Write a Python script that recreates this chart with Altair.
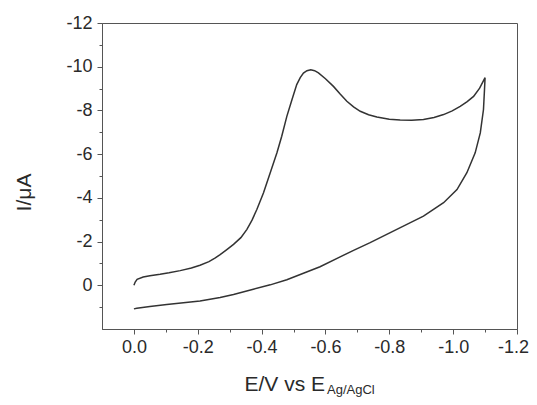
import altair as alt
import pandas as pd

# Cyclic voltammogram: potential (V vs Ag/AgCl) and current (uA), in scan order
E = [0.000, -0.004, -0.010, -0.029, -0.050, -0.082, -0.110, -0.145, -0.180, -0.207,
     -0.235, -0.255, -0.270, -0.290, -0.312, -0.335, -0.354, -0.370, -0.385, -0.406,
     -0.427, -0.448, -0.463, -0.479, -0.495, -0.510, -0.521, -0.531, -0.542, -0.554,
     -0.566, -0.578, -0.600, -0.625, -0.646, -0.667, -0.688, -0.709, -0.735, -0.761,
     -0.800, -0.834, -0.870, -0.907, -0.940, -0.970, -0.997, -1.022, -1.044, -1.064,
     -1.083, -1.100,
     -1.098, -1.095, -1.085, -1.069, -1.043, -1.012, -0.970, -0.907, -0.855, -0.803,
     -0.740, -0.688, -0.646, -0.583, -0.531, -0.479, -0.427, -0.374, -0.312, -0.270,
     -0.207, -0.155, -0.103, -0.050, -0.009, 0.000]
I = [0.00, -0.15, -0.27, -0.38, -0.44, -0.50, -0.57, -0.67, -0.79, -0.92,
     -1.08, -1.25, -1.40, -1.62, -1.87, -2.18, -2.56, -2.98, -3.47, -4.23,
     -5.15, -6.06, -6.82, -7.73, -8.49, -9.18, -9.50, -9.71, -9.82, -9.86,
     -9.82, -9.72, -9.45, -9.10, -8.75, -8.42, -8.16, -7.96, -7.80, -7.70,
     -7.60, -7.56, -7.55, -7.58, -7.68, -7.81, -7.98, -8.19, -8.40, -8.64,
     -9.02, -9.50,
     -8.90, -8.04, -6.97, -6.06, -5.15, -4.38, -3.78, -3.16, -2.79, -2.41,
     -1.95, -1.60, -1.30, -0.85, -0.55, -0.25, -0.02, 0.18, 0.42, 0.56,
     0.72, 0.80, 0.88, 0.97, 1.05, 1.08]

x_ticks = [0.0, -0.1, -0.2, -0.3, -0.4, -0.5, -0.6, -0.7, -0.8, -0.9, -1.0, -1.1, -1.2]
y_ticks = [-12, -11, -10, -9, -8, -7, -6, -5, -4, -3, -2, -1, 0, 1]

df = pd.DataFrame({"E": E, "I": I, "order": list(range(len(E)))})

FONT = "Liberation Sans"
AXIS_COLOR = "#555555"
TEXT_COLOR = "#2a2a2a"

x_axis = alt.Axis(
    values=x_ticks,
    labelExpr="abs(round(datum.value*10)) % 2 == 0 ? replace(format(datum.value, '.1f'), '\u2212', '-') : ''",
    tickSize={"condition": {"test": "abs(round(datum.value*10)) % 2 == 0", "value": 5}, "value": 3},
    labelOffset={"condition": {"test": "datum.value < -1.15", "value": -4}, "value": 0},
    tickColor=AXIS_COLOR, domainColor=AXIS_COLOR, grid=False,
    labelFont=FONT, labelFontSize=18, labelColor=TEXT_COLOR, labelPadding=4,
    labelFlush=False, labelOverlap=False,
    title="E/V vs E", titleFont=FONT, titleFontSize=21, titleFontWeight="normal",
    titleColor=TEXT_COLOR, titleAlign="left", titleBaseline="alphabetic",
    titleX=142, titleY=61,
)

y_axis = alt.Axis(
    values=y_ticks,
    labelExpr="datum.value % 2 == 0 ? '' + datum.value : ''",
    tickSize={"condition": {"test": "datum.value % 2 == 0", "value": 5}, "value": 3},
    tickColor=AXIS_COLOR, domainColor=AXIS_COLOR, grid=False,
    labelFont=FONT, labelFontSize=18, labelColor=TEXT_COLOR, labelPadding=5,
    labelFlush=False, labelOverlap=False,
    title="I/\u03bcA", titleFont=FONT, titleFontSize=21, titleFontWeight="normal",
    titleColor=TEXT_COLOR, titleAngle=-90, titleAlign="center", titleBaseline="alphabetic",
    titleX=-72, titleY=169,
)

line = alt.Chart(df).mark_line(color="#333333", strokeWidth=1.5).encode(
    x=alt.X("E:Q", scale=alt.Scale(domain=[0.1, -1.2], nice=False, zero=False), axis=x_axis),
    y=alt.Y("I:Q", scale=alt.Scale(domain=[2, -12], nice=False, zero=False), axis=y_axis),
    order="order:Q",
)

sub = alt.Chart(pd.DataFrame({"t": ["Ag/AgCl"]})).mark_text(
    font=FONT, fontSize=13, color=TEXT_COLOR, align="left", baseline="alphabetic"
).encode(
    text="t:N",
    x=alt.value(225),
    y=alt.value(371),
)

chart = alt.layer(line, sub).properties(
    width=415,
    height=306,
    autosize=alt.AutoSizeParams(type="none"),
    padding={"left": 94, "top": 15, "right": 12, "bottom": 68},
    background="white",
).configure_view(stroke=AXIS_COLOR, strokeWidth=1)

chart.save("out.html", embed_options={"renderer": "svg", "actions": False})
